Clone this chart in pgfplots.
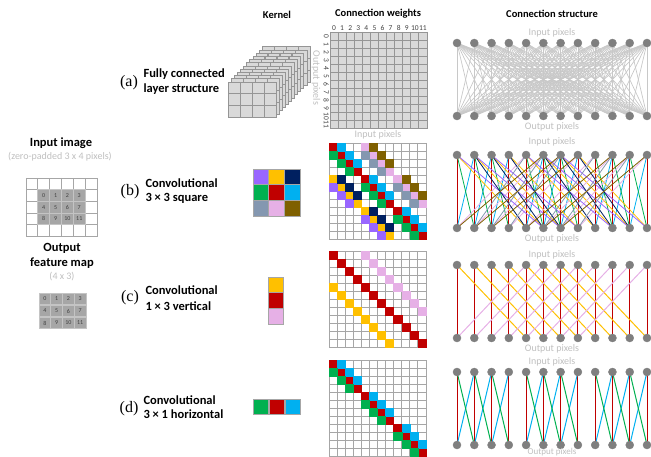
\documentclass[border=0pt]{standalone}
\usepackage{fontspec}
\setmainfont{Carlito}
\newfontfamily\serifl{Liberation Serif}
\usepackage{pgfplots}
\usepackage{pgfplotstable}
\pgfplotsset{compat=1.18}
\definecolor{lg}{HTML}{BFBFBF}
\definecolor{ng}{HTML}{7F7F7F}
\definecolor{mg}{HTML}{A6A6A6}
\definecolor{ag}{HTML}{D9D9D9}
\definecolor{ad}{HTML}{959595}
\definecolor{cg}{HTML}{C8C8C8}
\definecolor{tg}{HTML}{404040}
\definecolor{cellg}{HTML}{A6A6A6}
\definecolor{cellb}{HTML}{C4C4C4}
\definecolor{k0}{RGB}{192,0,0}
\definecolor{k1}{RGB}{0,176,240}
\definecolor{k2}{RGB}{0,176,80}
\definecolor{k3}{RGB}{255,192,0}
\definecolor{k4}{RGB}{230,176,230}
\definecolor{k5}{RGB}{153,102,255}
\definecolor{k6}{RGB}{0,32,96}
\definecolor{k7}{RGB}{132,151,176}
\definecolor{k8}{RGB}{127,96,0}
\newcommand\fs[1]{\fontsize{#1}{#1}\selectfont}
\pgfplotsset{
 every axis/.append style={/pgf/number format/assume math mode=true},
 wmat/.style={anchor=north west, width=97pt, height=96pt, scale only axis,
   xmin=-0.5, xmax=11.5, ymin=-0.5, ymax=11.5, y dir=reverse,
   xtick={0,...,11}, ytick={0,...,11}, xticklabels={}, yticklabels={},
   minor xtick={-0.5,0.5,...,11.5}, minor ytick={-0.5,0.5,...,11.5},
   grid=minor, minor grid style={draw=mg, line width=0.9pt},
   axis line style={draw=mg, line width=0.9pt},
   major tick length=0pt, minor tick length=0pt,
   axis on top},
 cstr/.style={anchor=south west, width=190pt, height=73pt, scale only axis,
   xmin=0, xmax=11, ymin=0, ymax=1, hide axis, clip=false},
 kern/.style={anchor=north west, scale only axis, hide axis, clip=false,
   y dir=reverse},
}
% cells of a weight matrix, one plot per kernel element
\newcommand\cells[2]{\pgfplotsinvokeforeach{0,...,8}{%
  \addplot[only marks, mark=square*, mark size=#2, color=k##1,
    restrict expr to domain={\thisrow{c}}{##1:##1}] table[x=in, y=out] {#1};}}
% connection lines, one plot per kernel element
\newcommand\links[2]{\pgfplotsinvokeforeach{0,...,8}{%
  \addplot[color=k##1, line width=#2, quiver={u=\thisrow{out}-\thisrow{in}, v=-1},
    restrict expr to domain={\thisrow{c}}{##1:##1}] table[x=in, y expr=1] {#1};}}
% fully connected: every input to every output
\pgfplotstableread[row sep=\\]{in out\\
0 0\\0 1\\0 2\\0 3\\0 4\\0 5\\0 6\\0 7\\0 8\\0 9\\0 10\\0 11\\
1 0\\1 1\\1 2\\1 3\\1 4\\1 5\\1 6\\1 7\\1 8\\1 9\\1 10\\1 11\\
2 0\\2 1\\2 2\\2 3\\2 4\\2 5\\2 6\\2 7\\2 8\\2 9\\2 10\\2 11\\
3 0\\3 1\\3 2\\3 3\\3 4\\3 5\\3 6\\3 7\\3 8\\3 9\\3 10\\3 11\\
4 0\\4 1\\4 2\\4 3\\4 4\\4 5\\4 6\\4 7\\4 8\\4 9\\4 10\\4 11\\
5 0\\5 1\\5 2\\5 3\\5 4\\5 5\\5 6\\5 7\\5 8\\5 9\\5 10\\5 11\\
6 0\\6 1\\6 2\\6 3\\6 4\\6 5\\6 6\\6 7\\6 8\\6 9\\6 10\\6 11\\
7 0\\7 1\\7 2\\7 3\\7 4\\7 5\\7 6\\7 7\\7 8\\7 9\\7 10\\7 11\\
8 0\\8 1\\8 2\\8 3\\8 4\\8 5\\8 6\\8 7\\8 8\\8 9\\8 10\\8 11\\
9 0\\9 1\\9 2\\9 3\\9 4\\9 5\\9 6\\9 7\\9 8\\9 9\\9 10\\9 11\\
10 0\\10 1\\10 2\\10 3\\10 4\\10 5\\10 6\\10 7\\10 8\\10 9\\10 10\\10 11\\
11 0\\11 1\\11 2\\11 3\\11 4\\11 5\\11 6\\11 7\\11 8\\11 9\\11 10\\11 11\\
}\tabA
% 3x3 square kernel: input, output, kernel element
\pgfplotstableread{
in out c
0 0 0
1 0 1
4 0 4
5 0 8
0 1 2
1 1 0
2 1 1
4 1 7
5 1 4
6 1 8
1 2 2
2 2 0
3 2 1
5 2 7
6 2 4
7 2 8
2 3 2
3 3 0
6 3 7
7 3 4
0 4 3
1 4 6
4 4 0
5 4 1
8 4 4
9 4 8
0 5 5
1 5 3
2 5 6
4 5 2
5 5 0
6 5 1
8 5 7
9 5 4
10 5 8
1 6 5
2 6 3
3 6 6
5 6 2
6 6 0
7 6 1
9 6 7
10 6 4
11 6 8
2 7 5
3 7 3
6 7 2
7 7 0
10 7 7
11 7 4
4 8 3
5 8 6
8 8 0
9 8 1
4 9 5
5 9 3
6 9 6
8 9 2
9 9 0
10 9 1
5 10 5
6 10 3
7 10 6
9 10 2
10 10 0
11 10 1
6 11 5
7 11 3
10 11 2
11 11 0
}\tabB
% 1x3 vertical kernel
\pgfplotstableread{
in out c
0 0 0
1 1 0
2 2 0
3 3 0
4 4 0
5 5 0
6 6 0
7 7 0
8 8 0
9 9 0
10 10 0
11 11 0
0 4 3
1 5 3
2 6 3
3 7 3
4 8 3
5 9 3
6 10 3
7 11 3
4 0 4
5 1 4
6 2 4
7 3 4
8 4 4
9 5 4
10 6 4
11 7 4
}\tabC
% 3x1 horizontal kernel
\pgfplotstableread{
in out c
0 0 0
1 1 0
2 2 0
3 3 0
4 4 0
5 5 0
6 6 0
7 7 0
8 8 0
9 9 0
10 10 0
11 11 0
0 1 2
1 2 2
2 3 2
4 5 2
5 6 2
6 7 2
8 9 2
9 10 2
10 11 2
1 0 1
2 1 1
3 2 1
5 4 1
6 5 1
7 6 1
9 8 1
10 9 1
11 10 1
}\tabD
% kernels: column, row, element
\pgfplotstableread{
in out c
0 0 5
1 0 3
2 0 6
0 1 2
1 1 0
2 1 1
0 2 7
1 2 4
2 2 8
}\kerB
\pgfplotstableread{
in out c
0 0 3
0 1 0
0 2 4
}\kerC
\pgfplotstableread{
in out c
0 0 2
1 0 0
2 0 1
}\kerD
\pgfplotstableread{
x y
0 1
1 1
2 1
3 1
4 1
5 1
6 1
7 1
8 1
9 1
10 1
11 1
0 0
1 0
2 0
3 0
4 0
5 0
6 0
7 0
8 0
9 0
10 0
11 0
}\nodesT
\pgfplotstableread{
i j lab
0 0 0
1 0 1
2 0 2
3 0 3
0 1 4
1 1 5
2 1 6
3 1 7
0 2 8
1 2 9
2 2 10
3 2 11
}\pix
\begin{document}
\begin{tikzpicture}
\path[use as bounding box] (0pt,0pt) rectangle (651pt,-457pt);
% headers
\node[font=\bfseries\fs{10.5}] at (277pt,-15pt) {Kernel};
\node[font=\bfseries\fs{10.5}] at (378pt,-14pt) {Connection weights};
\node[font=\bfseries\fs{10.5}] at (552pt,-14pt) {Connection structure};
% left panel
\node[font=\bfseries\fs{12.5}] at (61pt,-143pt) {Input image};
\node[font=\fs{10}, text=lg] at (60pt,-157pt) {(zero-padded 3 x 4 pixels)};
\node[font=\bfseries\fs{12.5}] at (62pt,-248pt) {Output};
\node[font=\bfseries\fs{12.5}] at (62pt,-263pt) {feature map};
\node[font=\fs{10}, text=lg] at (62pt,-277pt) {(4 x 3)};
% row labels
\node[font=\serifl\fs{16}] at (129pt,-83pt) {(a)};
\node[anchor=west,font=\bfseries\fs{12.5}] at (140pt,-74pt) {Fully connected};
\node[anchor=west,font=\bfseries\fs{12.5}] at (140pt,-89pt) {layer structure};
\node[font=\serifl\fs{16}] at (130pt,-192pt) {(b)};
\node[anchor=west,font=\bfseries\fs{12.5}] at (142pt,-183pt) {Convolutional};
\node[anchor=west,font=\bfseries\fs{12.5}] at (142pt,-198pt) {3 × 3 square};
\node[font=\serifl\fs{16}] at (130pt,-298pt) {(c)};
\node[anchor=west,font=\bfseries\fs{12.5}] at (142pt,-290pt) {Convolutional};
\node[anchor=west,font=\bfseries\fs{12.5}] at (142pt,-306pt) {1 × 3 vertical};
\node[font=\serifl\fs{16}] at (129pt,-409pt) {(d)};
\node[anchor=west,font=\bfseries\fs{12.5}] at (140pt,-400pt) {Convolutional};
\node[anchor=west,font=\bfseries\fs{12.5}] at (140pt,-414pt) {3 × 1 horizontal};

% input image grid
\begin{axis}[anchor=north west, at={(26pt,-178pt)}, width=71pt, height=58.5pt, scale only axis,
  xmin=-1.5, xmax=4.5, ymin=-1.5, ymax=3.5, y dir=reverse,
  xtick={-1,...,4}, ytick={-1,...,3}, xticklabels={}, yticklabels={},
  minor xtick={-1.5,-0.5,...,4.5}, minor ytick={-1.5,-0.5,...,3.5}, grid=minor,
  minor grid style={draw=mg, line width=0.9pt}, axis line style={draw=mg, line width=0.9pt},
  major tick length=0pt, minor tick length=0pt, clip=false]
\addplot[only marks, mark=square*, mark size=5.85pt, mark options={fill=cellg, draw=cellb, line width=0.8pt},
  nodes near coords, point meta=explicit symbolic,
  every node near coord/.style={anchor=center, font=\fs{6}, text=tg}]
  table[x=i, y=j, meta=lab] {\pix};
\end{axis}
% output feature map
\begin{axis}[kern, at={(39pt,-293pt)}, width=47pt, height=36pt,
  xmin=-0.5, xmax=3.5, ymin=-0.5, ymax=2.5]
\addplot[only marks, mark=square*, mark size=5.9pt, mark options={fill=cellg, draw=cellb, line width=0.8pt},
  nodes near coords, point meta=explicit symbolic,
  every node near coord/.style={anchor=center, font=\fs{6}, text=tg}]
  table[x=i, y=j, meta=lab] {\pix};
\end{axis}

% (a) kernel stack
\begin{axis}[kern, at={(228pt,-82pt)}, width=48pt, height=35pt, xmin=0, xmax=4, ymin=0, ymax=3]
\pgfplotsinvokeforeach{11,10,...,0}{
\addplot[only marks, mark=square*, mark size=5.9pt, mark options={fill=ag, draw=ad, line width=0.7pt}]
  table[x expr=\thisrow{i}+0.5+0.258*#1, y expr=\thisrow{j}+0.5-0.274*#1] {\pix};
}
\end{axis}
% kernels b c d
\begin{axis}[kern, at={(253pt,-169pt)}, width=47pt, height=47pt, xmin=-0.5, xmax=2.5, ymin=-0.5, ymax=2.5,
  every axis plot/.append style={mark options={draw=mg, line width=0.9pt}}]
\cells{\kerB}{7.8pt}
\end{axis}
\begin{axis}[kern, at={(268pt,-277pt)}, width=16pt, height=47pt, xmin=-0.5, xmax=0.5, ymin=-0.5, ymax=2.5,
  every axis plot/.append style={mark options={draw=mg, line width=0.9pt}}]
\cells{\kerC}{7.8pt}
\end{axis}
\begin{axis}[kern, at={(253pt,-399pt)}, width=48pt, height=16pt, xmin=-0.5, xmax=2.5, ymin=-0.5, ymax=0.5,
  every axis plot/.append style={mark options={draw=mg, line width=0.9pt}}]
\cells{\kerD}{7.8pt}
\end{axis}

% weight matrices
\begin{axis}[wmat, at={(330pt,-32pt)}, axis background/.style={fill=ag},
  minor grid style={draw=ad, line width=0.9pt}, axis line style={draw=ad, line width=0.9pt},
  xticklabels={0,1,2,3,4,5,6,7,8,9,10,11}, yticklabels={0,1,2,3,4,5,6,7,8,9,10,11},
  xticklabel pos=upper,
  tick label style={font=\fs{7.5}, text=tg, inner sep=1pt},
  yticklabel style={rotate=-90, anchor=north}]
\addplot[draw=none] coordinates {(0,0)};
\end{axis}
\node[font=\fs{10}, text=lg, rotate=-90] at (316pt,-78pt) {Output pixels};
\node[font=\fs{10}, text=lg] at (378pt,-135pt) {Input pixels};
\begin{axis}[wmat, at={(329pt,-143pt)}]
\cells{\tabB}{4.05pt}
\end{axis}
\begin{axis}[wmat, at={(329pt,-251pt)}]
\cells{\tabC}{4.05pt}
\end{axis}
\begin{axis}[wmat, at={(329pt,-360pt)}]
\cells{\tabD}{4.05pt}
\end{axis}

% connection structures
\begin{axis}[cstr, at={(457pt,-116pt)}]
\addplot[cg, line width=0.7pt, quiver={u=\thisrow{out}-\thisrow{in}, v=-1}] table[x=in, y expr=1] {\tabA};
\addplot[only marks, mark=*, mark size=4pt, color=ng] table {\nodesT};
\end{axis}
\node[font=\fs{10}, text=lg] at (552pt,-33pt) {Input pixels};
\node[font=\fs{10}, text=lg] at (552pt,-127pt) {Output pixels};

\begin{axis}[cstr, at={(457pt,-228pt)}]
\links{\tabB}{0.8pt}
\addplot[only marks, mark=*, mark size=4pt, color=ng] table {\nodesT};
\end{axis}
\node[font=\fs{10}, text=lg] at (552pt,-142pt) {Input pixels};
\node[font=\fs{10}, text=lg] at (552pt,-239pt) {Output pixels};

\begin{axis}[cstr, at={(457pt,-338pt)}]
\links{\tabC}{1pt}
\addplot[only marks, mark=*, mark size=4pt, color=ng] table {\nodesT};
\end{axis}
\node[font=\fs{10}, text=lg] at (552pt,-255pt) {Input pixels};
\node[font=\fs{10}, text=lg] at (552pt,-349pt) {Output pixels};

\begin{axis}[cstr, at={(457pt,-445pt)}]
\links{\tabD}{1pt}
\addplot[only marks, mark=*, mark size=4pt, color=ng] table {\nodesT};
\end{axis}
\node[font=\fs{10}, text=lg] at (552pt,-362pt) {Input pixels};
\node[font=\fs{9}, text=lg] at (552pt,-452pt) {Output pixels};
\end{tikzpicture}
\end{document}
